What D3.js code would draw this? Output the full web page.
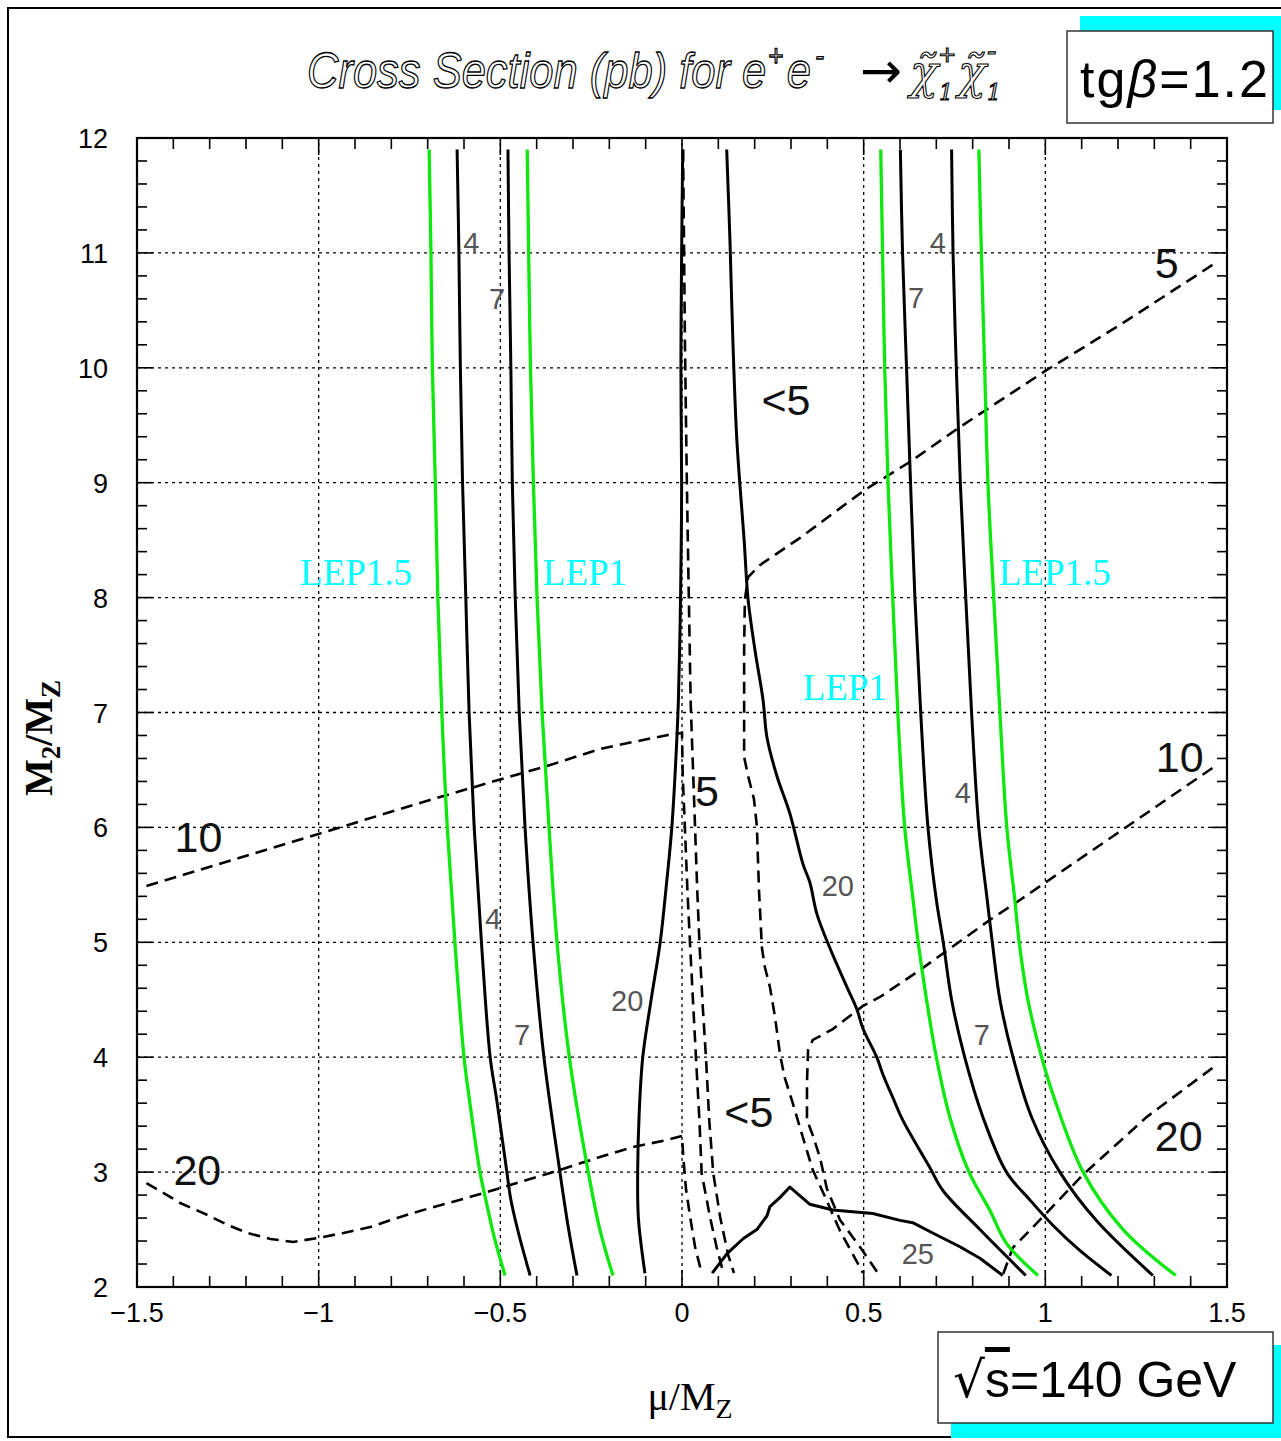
<!DOCTYPE html>
<html><head><meta charset="utf-8">
<script src="https://cdn.jsdelivr.net/npm/d3@7"></script>
<style>
html,body{margin:0;padding:0;background:#fff;}
svg{display:block;}
</style></head><body>
<svg id="chart" width="1281" height="1441"></svg>
<script>
// ---- axes ----
const xDomain = [-1.5, 1.5];
const yDomain = [2, 12];
const xTickLabels = [-1.5, -1, -0.5, 0, 0.5, 1, 1.5];
const yTickLabels = [2, 3, 4, 5, 6, 7, 8, 9, 10, 11, 12];
const xGrid = [-1, -0.5, 0, 0.5, 1];
const yGrid = [3, 4, 5, 6, 7, 8, 9, 10, 11];

// ---- LEP exclusion limits (green), points are [mu/MZ, M2/MZ] ----
const lep15Left  = [[-0.696,11.9],[-0.691,11],[-0.687,10],[-0.679,9],[-0.672,8],[-0.661,7],[-0.646,6],[-0.625,5],[-0.600,4],[-0.585,3.63],[-0.556,3],[-0.540,2.76],[-0.518,2.45],[-0.487,2.1]];
const lep1Left   = [[-0.426,11.9],[-0.422,11],[-0.417,10],[-0.409,9],[-0.399,8],[-0.385,7],[-0.366,6],[-0.344,5],[-0.310,4],[-0.258,3],[-0.226,2.5],[-0.190,2.1]];
const lep1Right  = [[0.547,11.9],[0.552,11],[0.558,10],[0.567,9],[0.580,8],[0.594,7],[0.613,6],[0.636,5.37],[0.650,5],[0.673,4.5],[0.700,4],[0.737,3.48],[0.790,3],[0.847,2.67],[0.893,2.38],[0.980,2.1]];
const lep15Right = [[0.817,11.9],[0.824,11],[0.833,10],[0.842,9],[0.858,8],[0.875,7],[0.894,6],[0.916,5.37],[0.928,5],[0.952,4.5],[0.990,4],[1.026,3.63],[1.104,3],[1.214,2.5],[1.359,2.1]];

// ---- chargino mass contours (solid black) ----
const mass4Left  = [[-0.619,11.9],[-0.614,11],[-0.610,10],[-0.604,9],[-0.595,8],[-0.586,7],[-0.572,6],[-0.552,5],[-0.528,4],[-0.510,3.63],[-0.482,3],[-0.471,2.76],[-0.450,2.47],[-0.418,2.1]];
const mass7Left  = [[-0.479,11.9],[-0.476,11],[-0.471,10],[-0.467,9],[-0.459,8],[-0.448,7],[-0.432,6],[-0.410,5],[-0.380,4],[-0.336,3],[-0.312,2.5],[-0.289,2.1]];
const mass7Right = [[0.601,11.9],[0.607,11],[0.618,10],[0.629,9],[0.641,8],[0.657,7],[0.677,6],[0.700,5.37],[0.719,5],[0.742,4.5],[0.778,4],[0.828,3.48],[0.893,3],[0.957,2.76],[1.020,2.54],[1.094,2.32],[1.182,2.1]];
const mass4Right = [[0.742,11.9],[0.746,11],[0.755,10],[0.766,9],[0.781,8],[0.797,7],[0.817,6],[0.840,5.37],[0.854,5],[0.875,4.5],[0.911,4],[0.962,3.48],[1.040,3],[1.140,2.58],[1.296,2.1]];
const mass20Left = [[0.002,11.9],[-0.001,11],[-0.003,10],[-0.001,9],[-0.002,8.5],[-0.005,7.8],[-0.010,7.1],[-0.014,6.78],[-0.028,6],[-0.043,5.5],[-0.060,5],[-0.085,4.5],[-0.108,4],[-0.118,3.5],[-0.122,3],[-0.120,2.6],[-0.102,2.12]];
const mass20Right = [[0.123,11.9],[0.132,11.11],[0.140,10.24],[0.151,9.37],[0.171,8.5],[0.182,7.98],[0.201,7.54],[0.223,7.11],[0.234,6.78],[0.261,6.45],[0.297,6.12],[0.333,5.68],[0.352,5.52],[0.371,5.25],[0.407,4.95],[0.454,4.61],[0.481,4.42],[0.498,4.25],[0.536,4.0],[0.553,3.85],[0.580,3.65],[0.608,3.45],[0.682,3.04],[0.718,2.84],[0.820,2.5],[0.946,2.1]];
const mass25 = [[0.083,2.12],[0.124,2.29],[0.168,2.42],[0.206,2.50],[0.234,2.62],[0.242,2.70],[0.270,2.78],[0.297,2.87],[0.352,2.72],[0.415,2.67],[0.525,2.64],[0.600,2.58],[0.635,2.56],[0.690,2.47],[0.765,2.35],[0.820,2.25],[0.883,2.10]];

// ---- cross-section contours in pb (dashed) ----
const sigma10Left = [[-1.474,5.490],[-1.001,5.943],[-0.666,6.265],[-0.363,6.543],[-0.226,6.682],[-0.135,6.743],[-0.0385,6.804],[0,6.822],[0.002,6.447],[0.008,5.995],[0.015,5.447],[0.022,4.994],[0.031,4.446],[0.0385,3.993],[0.048,3.45],[0.054,2.992],[0.077,2.61],[0.095,2.35],[0.114,2.122]];
const sigma5Center = [[0.003,11.9],[0.008,10.24],[0.013,9.08],[0.016,8.50],[0.024,7.07],[0.031,6.447],[0.036,5.995],[0.042,5.447],[0.048,4.994],[0.057,4.446],[0.066,3.993],[0.075,3.45],[0.086,2.992],[0.105,2.61],[0.127,2.28],[0.143,2.122]];
const sigma20Left = [[-1.474,2.905],[-1.408,2.783],[-1.381,2.731],[-1.306,2.627],[-1.251,2.540],[-1.196,2.470],[-1.133,2.418],[-1.070,2.392],[-1.004,2.426],[-0.932,2.470],[-0.858,2.522],[-0.784,2.601],[-0.693,2.688],[-0.602,2.766],[-0.509,2.853],[-0.363,2.992],[-0.226,3.131],[-0.135,3.218],[-0.041,3.28],[0,3.314],[0.004,3.114],[0.011,2.853],[0.022,2.618],[0.036,2.348],[0.054,2.122]];
const sigma5Right = [[1.460,10.895],[1.205,10.372],[1.004,9.981],[0.765,9.485],[0.627,9.180],[0.503,8.937],[0.325,8.52],[0.215,8.284],[0.182,8.179],[0.173,7.979],[0.171,7.544],[0.171,7.109],[0.171,6.613],[0.182,6.447],[0.198,6.247],[0.206,6.012],[0.212,5.447],[0.220,4.950],[0.228,4.785],[0.242,4.611],[0.256,4.350],[0.270,4.019],[0.283,3.819],[0.303,3.619],[0.325,3.384],[0.344,3.184],[0.360,3.018],[0.399,2.748],[0.435,2.487],[0.470,2.287],[0.498,2.122]];
const sigma10Right = [[1.460,6.517],[0.930,5.368],[0.847,5.194],[0.655,4.759],[0.545,4.524],[0.498,4.446],[0.415,4.245],[0.360,4.150],[0.347,4.063],[0.344,3.784],[0.344,3.453],[0.360,3.32],[0.380,3.123],[0.399,2.853],[0.435,2.583],[0.490,2.348],[0.539,2.122]];
const sigma20Right = [[1.460,3.906],[1.279,3.480],[1.103,2.975],[0.993,2.61],[0.910,2.339],[0.883,2.104]];

// ---- contour labels [text, mu/MZ, M2/MZ] ----
const massLabels = [["4",-0.580,11.09],["7",-0.509,10.60],["4",-0.520,5.20],["7",-0.440,4.19],["20",-0.151,4.49],["20",0.429,5.49],["4",0.704,11.09],["7",0.644,10.61],["4",0.773,6.30],["7",0.825,4.19],["25",0.649,2.29]];
const sigmaLabels = [["5",1.334,10.91],["<5",0.286,9.72],["10",-1.331,5.92],["5",0.069,6.32],["10",1.370,6.61],["20",-1.334,3.02],["<5",0.184,3.52],["20",1.367,3.31]];
const lepLabels = [["LEP1.5",-0.897,8.22],["LEP1",-0.267,8.22],["LEP1",0.448,7.22],["LEP1.5",1.026,8.22]];

// ---------------------------------------------------------------
const W = 1281, H = 1441;
const P = {left: 137, right: 1227, top: 138, bottom: 1287};
const SANS = "'Liberation Sans', Arial, Helvetica, sans-serif";
const SERIF = "'Liberation Serif', 'Times New Roman', serif";
const CYAN = "#00ffff";
const GREEN = "#0ee80e";

const svg = d3.select("#chart");
const x = d3.scaleLinear().domain(xDomain).range([P.left, P.right]);
const y = d3.scaleLinear().domain(yDomain).range([P.bottom, P.top]);

svg.append("rect").attr("width", W).attr("height", H).attr("fill", "#fff");

// page frame (left, top and bottom edges)
svg.append("path").attr("d", "M1281,8H8V1437H1281")
  .attr("fill", "none").attr("stroke", "#000").attr("stroke-width", 2);

// dotted grid
const grid = svg.append("g").attr("stroke", "#000").attr("stroke-width", 1.3)
  .attr("stroke-dasharray", "3,4").attr("fill", "none");
xGrid.forEach(v => grid.append("line").attr("x1", x(v)).attr("x2", x(v))
  .attr("y1", y(yDomain[0])).attr("y2", y(yDomain[1])));
yGrid.forEach(v => grid.append("line").attr("y1", y(v)).attr("y2", y(v))
  .attr("x1", x(xDomain[0])).attr("x2", x(xDomain[1])));

// tick marks on all four sides
const ticks = svg.append("g").attr("stroke", "#000").attr("stroke-width", 1.6);
d3.range(-15, 16).forEach(i => {
  const v = i / 10, len = (i % 5 === 0) ? 17 : 11;
  ticks.append("line").attr("x1", x(v)).attr("x2", x(v)).attr("y1", P.bottom).attr("y2", P.bottom - len);
  ticks.append("line").attr("x1", x(v)).attr("x2", x(v)).attr("y1", P.top).attr("y2", P.top + len);
});
d3.range(10, 61).forEach(i => {
  const v = i / 5, len = (i % 5 === 0) ? 16 : 10;
  ticks.append("line").attr("y1", y(v)).attr("y2", y(v)).attr("x1", P.left).attr("x2", P.left + len);
  ticks.append("line").attr("y1", y(v)).attr("y2", y(v)).attr("x1", P.right).attr("x2", P.right - len);
});

// tick labels
const fmt = d3.format("");
svg.append("g").selectAll("text").data(xTickLabels).join("text")
  .attr("x", d => x(d)).attr("y", P.bottom + 35).attr("text-anchor", "middle")
  .attr("font-family", SANS).attr("font-size", 27).text(d => fmt(d));
svg.append("g").selectAll("text").data(yTickLabels).join("text")
  .attr("x", 108).attr("y", d => y(d) + 10).attr("text-anchor", "end")
  .attr("font-family", SANS).attr("font-size", 27).text(d => fmt(d));

// curves
const clip = svg.append("defs").append("clipPath").attr("id", "plotclip");
clip.append("rect").attr("x", P.left).attr("y", P.top).attr("width", P.right - P.left).attr("height", P.bottom - P.top);
const curves = svg.append("g").attr("clip-path", "url(#plotclip)").attr("fill", "none");

const smooth = d3.line().x(d => x(d[0])).y(d => y(d[1])).curve(d3.curveCatmullRom.alpha(0.5));
const straight = d3.line().x(d => x(d[0])).y(d => y(d[1]));

[sigma10Left, sigma5Center, sigma20Left, sigma5Right, sigma10Right, sigma20Right].forEach(c =>
  curves.append("path").attr("d", straight(c)).attr("stroke", "#000")
    .attr("stroke-width", 2.6).attr("stroke-dasharray", "12,7"));

[mass4Left, mass7Left, mass7Right, mass4Right, mass20Left, mass20Right].forEach(c =>
  curves.append("path").attr("d", smooth(c)).attr("stroke", "#000").attr("stroke-width", 3));
curves.append("path").attr("d", straight(mass25)).attr("stroke", "#000").attr("stroke-width", 3)
  .attr("stroke-linejoin", "round");

[lep15Left, lep1Left, lep1Right, lep15Right].forEach(c =>
  curves.append("path").attr("d", smooth(c)).attr("stroke", GREEN).attr("stroke-width", 3.3));

// plot frame
svg.append("rect").attr("x", P.left).attr("y", P.top).attr("width", P.right - P.left)
  .attr("height", P.bottom - P.top).attr("fill", "none").attr("stroke", "#000").attr("stroke-width", 2.2);

// contour labels
svg.append("g").selectAll("text").data(massLabels).join("text")
  .attr("x", d => x(d[1])).attr("y", d => y(d[2]) + 10).attr("text-anchor", "middle")
  .attr("font-family", SANS).attr("font-size", 29).attr("fill", "#555").text(d => d[0]);
svg.append("g").selectAll("text").data(sigmaLabels).join("text")
  .attr("x", d => x(d[1])).attr("y", d => y(d[2]) + 15).attr("text-anchor", "middle")
  .attr("font-family", SANS).attr("font-size", 43).attr("fill", "#111").text(d => d[0]);
svg.append("g").selectAll("text").data(lepLabels).join("text")
  .attr("x", d => x(d[1])).attr("y", d => y(d[2]) + 13).attr("text-anchor", "middle")
  .attr("font-family", SERIF).attr("font-size", 37).attr("fill", CYAN).text(d => d[0]);

// axis titles
const yt = svg.append("text").attr("transform", "translate(52,738) rotate(-90)")
  .attr("text-anchor", "middle").attr("font-family", SERIF).attr("font-weight", "bold").attr("font-size", 39);
yt.append("tspan").text("M");
yt.append("tspan").attr("font-size", 27).attr("dy", 8).text("2");
yt.append("tspan").attr("dy", -8).text("/M");
yt.append("tspan").attr("font-size", 27).attr("dy", 8).text("Z");

const xt = svg.append("text").attr("x", 690).attr("y", 1410)
  .attr("text-anchor", "middle").attr("font-family", SERIF).attr("font-size", 40);
xt.append("tspan").text("\u03bc/M");
xt.append("tspan").attr("font-size", 28).attr("dy", 8).text("Z");

// title, outlined italic
const title = svg.append("g").attr("font-style", "italic")
  .attr("fill", "#fff").attr("stroke", "#000").attr("stroke-width", 1.3);
const t1 = title.append("text").attr("font-family", SANS).attr("font-size", 50)
  .attr("transform", "translate(307,88) scale(0.87,1)");
t1.append("tspan").text("Cross Section (pb) for e");
t1.append("tspan").attr("font-size", 30).attr("dx", 2).attr("dy", -22).text("+");
t1.append("tspan").attr("dx", 4).attr("dy", 22).text("e");
t1.append("tspan").attr("font-size", 30).attr("dx", 5).attr("dy", -22).text("-");
svg.append("text").attr("x", 860).attr("y", 88).attr("font-family", "'DejaVu Sans', sans-serif")
  .attr("font-size", 50).attr("fill", "#000").text("\u2192");
// chargino pair: tilded chi with charge superscripts and index subscripts
const chi = title.append("g").attr("font-family", "'DejaVu Serif', serif").attr("stroke-width", 1.1);
chi.append("text").attr("x", 910).attr("y", 88).attr("font-size", 46).text("\u03c7\u0303");
chi.append("text").attr("x", 938).attr("y", 62).attr("font-size", 22).text("+");
chi.append("text").attr("x", 939).attr("y", 100).attr("font-size", 22).text("1");
chi.append("text").attr("x", 958).attr("y", 88).attr("font-size", 46).text("\u03c7\u0303");
chi.append("text").attr("x", 987).attr("y", 60).attr("font-size", 28).text("-");
chi.append("text").attr("x", 987).attr("y", 100).attr("font-size", 22).text("1");

// tan(beta) box with cyan shadow
svg.append("rect").attr("x", 1080).attr("y", 16).attr("width", 201).attr("height", 94).attr("fill", CYAN);
svg.append("rect").attr("x", 1067).attr("y", 31).attr("width", 206).attr("height", 92)
  .attr("fill", "#fff").attr("stroke", "#333").attr("stroke-width", 1.5);
const tb = svg.append("text").attr("x", 1080).attr("y", 97).attr("font-family", SANS).attr("font-size", 52)
  .attr("textLength", 188).attr("lengthAdjust", "spacing");
tb.append("tspan").text("tg");
tb.append("tspan").attr("font-style", "italic").text("\u03b2");
tb.append("tspan").text("=1.2");

// sqrt(s) box with cyan shadow
svg.append("rect").attr("x", 951).attr("y", 1345).attr("width", 330).attr("height", 93).attr("fill", CYAN);
svg.append("rect").attr("x", 938).attr("y", 1332).attr("width", 335).attr("height", 91)
  .attr("fill", "#fff").attr("stroke", "#333").attr("stroke-width", 1.5);
const sb = svg.append("text").attr("x", 953).attr("y", 1397).attr("font-family", SANS).attr("font-size", 50);
sb.append("tspan").attr("font-family", "'DejaVu Sans', sans-serif").text("\u221a");
sb.append("tspan").style("text-decoration", "overline").text("s");
sb.append("tspan").text("=140 GeV");
</script>
</body></html>
